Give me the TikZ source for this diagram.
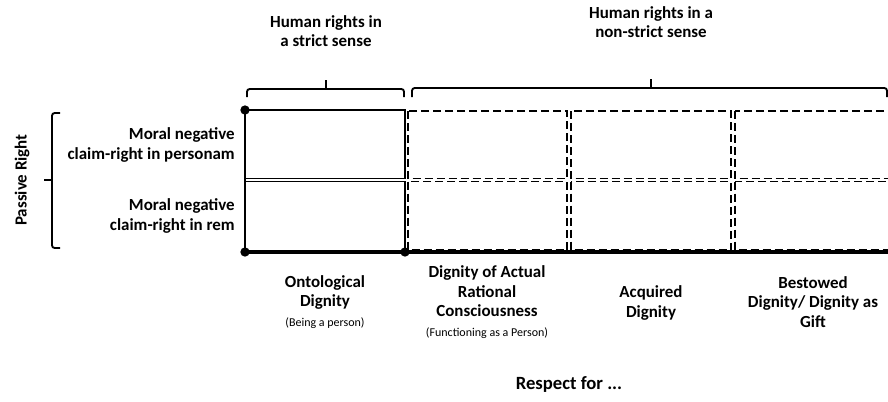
\documentclass[tikz,border=0pt]{standalone}
\usepackage{fontspec}
\setmainfont{Carlito}
\newcommand\subtxt[1]{{\mdseries\fontsize{9}{11}\selectfont #1}}
\begin{document}
\begin{tikzpicture}[x=0.75pt,y=-0.75pt,
		lab/.style={font=\bfseries\fontsize{12.7}{14.8}\selectfont, align=center, inner sep=0pt},
		rowlab/.style={lab, align=right, anchor=east},
		cell/.style={line width=1.4pt},
		dcell/.style={line width=1.4pt, dash pattern=on 6pt off 3pt},
		brak/.style={line width=1.4pt, rounded corners=2pt},
		dot/.style={circle, fill, inner sep=0pt, minimum size=7pt}]
	\useasboundingbox (0,0) rectangle (888,401);
	
	% solid column
	\draw[cell] (245,110) rectangle (405,178.5);
	\draw[cell] (245,181.5) rectangle (405,252);
	% dashed columns
	\foreach \xa/\xb in {408/567, 571/731, 735/892}{
		\draw[dcell] (\xa,111) rectangle (\xb,178.5);
		\draw[dcell] (\xa,181.5) rectangle (\xb,250);
	}
	\coordinate (tl) at (245,110);
	\coordinate (bl) at (245,252);
	\coordinate (bm) at (405,252);
	\coordinate (br) at (890,252);
	\draw[line width=2.2pt] (tl) -- (bl);
	\draw[line width=3pt] (bl) -- (br);
	\node[dot] at (tl) {};
	\node[dot] at (bl) {};
	\node[dot] at (bm) {};
	
	% brackets
	\draw[brak] (247,97) -- (247,89) -- (404,89) -- (404,97);
	\draw[brak] (326,89) -- (326,80);
	\draw[brak] (412,97) -- (412,88) -- (887,88) -- (887,97);
	\draw[brak] (651,88) -- (651,79);
	\draw[brak] (60,113) -- (52,113) -- (52,248) -- (60,248);
	\draw[brak] (52,180) -- (44,180);
	
	% labels
	\node[lab] (strict) at (326,31) {Human rights in\\a strict sense};
	\node[lab] (nonstrict) at (651,22) {Human rights in a\\non-strict sense};
	\node[lab, rotate=90] (passive) at (22,180) {Passive Right};
	\node[rowlab] (personam) at (235,145) {Moral negative\\claim-right in personam};
	\node[rowlab] (rem) at (235,216) {Moral negative\\claim-right in rem};
	
	\node[lab] (onto) at (325,302) {Ontological\\Dignity\\\subtxt{(Being a person)}};
	\node[lab] (actual) at (487,302) {Dignity of Actual\\Rational\\Consciousness\\\subtxt{(Functioning as a Person)}};
	\node[lab] (acquired) at (651,303) {Acquired\\Dignity};
	\node[lab] (bestowed) at (813,302) {Bestowed\\Dignity/ Dignity as\\Gift};
	\node[lab, font=\bfseries\fontsize{14}{16}\selectfont] (respect) at (569,384) {Respect for ...};
\end{tikzpicture}
\end{document}
